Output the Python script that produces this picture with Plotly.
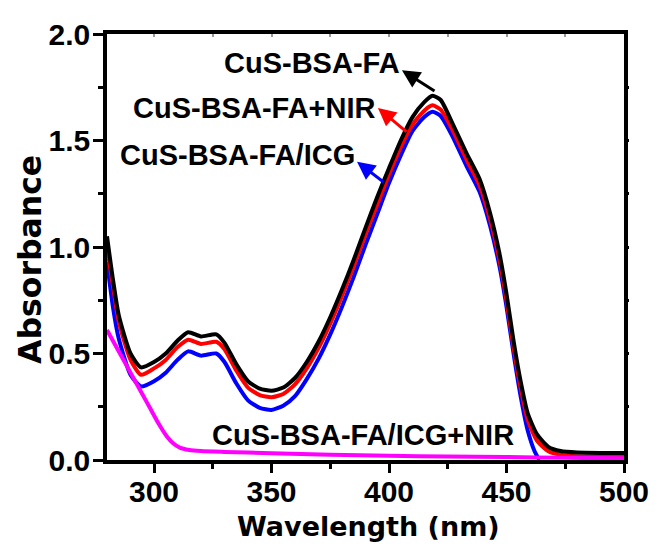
import plotly.graph_objects as go

# Black: CuS-BSA-FA
wl_black = [280, 282.5, 285, 290, 294.5, 300, 305, 310, 314.5, 320, 326.5, 330, 335, 340, 345, 350, 355, 360,
            365, 370, 375, 380, 385, 390, 395, 400, 405, 410, 415, 418.5, 422, 427, 433, 438.5, 443, 447,
            450, 453, 456, 459, 463, 468, 473, 480, 490, 500]
abs_black = [1.05, 0.85, 0.68, 0.50, 0.435, 0.46, 0.50, 0.56, 0.60, 0.58, 0.59, 0.55, 0.45, 0.37, 0.335, 0.325,
             0.34, 0.385, 0.46, 0.555, 0.67, 0.80, 0.94, 1.09, 1.235, 1.37, 1.50, 1.61, 1.68, 1.71, 1.69,
             1.58, 1.44, 1.32, 1.16, 0.97, 0.78, 0.56, 0.37, 0.22, 0.12, 0.06, 0.042, 0.035, 0.033, 0.033]

# Red: CuS-BSA-FA+NIR
wl_red = wl_black
abs_red = [1.00, 0.82, 0.65, 0.47, 0.40, 0.43, 0.47, 0.53, 0.565, 0.545, 0.555, 0.52, 0.42, 0.34, 0.305, 0.295,
           0.31, 0.355, 0.43, 0.525, 0.64, 0.77, 0.91, 1.06, 1.20, 1.34, 1.47, 1.575, 1.64, 1.665, 1.645,
           1.55, 1.41, 1.29, 1.13, 0.94, 0.75, 0.53, 0.34, 0.19, 0.09, 0.04, 0.025, 0.018, 0.016, 0.015]

# Blue: CuS-BSA-FA/ICG
wl_blue = [280, 282.5, 285, 290, 294.5, 300, 305, 310, 314.5, 320, 326.5, 330, 335, 340, 345, 350, 355, 360,
           365, 370, 375, 380, 385, 390, 395, 400, 405, 410, 415, 418.5, 422, 427, 433, 438.5, 443, 447,
           450, 453, 456, 459, 462, 464]
abs_blue = [0.93, 0.72, 0.57, 0.40, 0.345, 0.37, 0.41, 0.47, 0.51, 0.49, 0.50, 0.46, 0.36, 0.28, 0.245, 0.235,
            0.255, 0.30, 0.38, 0.475, 0.59, 0.72, 0.86, 1.01, 1.155, 1.30, 1.43, 1.545, 1.61, 1.635, 1.615,
            1.52, 1.38, 1.26, 1.10, 0.91, 0.72, 0.50, 0.30, 0.14, 0.04, 0.0]

# Magenta: CuS-BSA-FA/ICG+NIR
wl_mag = [280, 285.5, 291, 295, 298, 302, 305.5, 308, 311, 315, 320, 330, 350, 375, 400, 425, 450, 475, 500]
abs_mag = [0.61, 0.50, 0.39, 0.31, 0.25, 0.17, 0.11, 0.08, 0.058, 0.047, 0.042, 0.038, 0.032, 0.025, 0.02,
           0.016, 0.014, 0.01, 0.008]

labels = ["CuS-BSA-FA", "CuS-BSA-FA+NIR", "CuS-BSA-FA/ICG", "CuS-BSA-FA/ICG+NIR"]
label_pos = [(367.2, 1.864), (342.6, 1.653), (335.7, 1.432), (388.9, 0.117)]
arrow_heads = [(405.5, 1.83), (395.3, 1.653), (386.4, 1.40)]
arrow_tails = [(420.0, 1.728), (408.1, 1.535), (398.3, 1.30)]
colors = ["#000000", "#FF0000", "#0000FF", "#FF00FF"]

x_ticks = [300, 350, 400, 450, 500]
y_ticks = [0, 0.5, 1.0, 1.5, 2.0]
y_ticktext = ["0.0", "0.5", "1.0", "1.5", "2.0"]
x_mirror_ticks = [300, 325, 350, 375, 400, 425, 450, 475]
y_mirror_ticks = [0.25, 0.5, 0.75, 1.0, 1.25, 1.5, 1.75]

fig = go.Figure()
series = [(wl_blue, abs_blue, colors[2]), (wl_red, abs_red, colors[1]),
          (wl_black, abs_black, colors[0]), (wl_mag, abs_mag, colors[3])]
for xs, ys, c in series:
    fig.add_trace(go.Scatter(x=xs, y=ys, mode="lines",
                             line=dict(color=c, width=4, shape="spline", smoothing=0.6),
                             showlegend=False, hoverinfo="skip"))

ann = []
for (tx, ty), t in zip(label_pos, labels):
    ann.append(dict(x=tx, y=ty, xref="x", yref="y", text=t, showarrow=False,
                    font=dict(family="Liberation Sans, Arial", size=29, color="#000000", weight="bold"),
                    xanchor="center", yanchor="middle"))
for (hx, hy), (sx, sy), c in zip(arrow_heads, arrow_tails, colors[:3]):
    ann.append(dict(x=hx, y=hy, ax=sx, ay=sy, xref="x", yref="y", axref="x", ayref="y",
                    text="", showarrow=True, arrowhead=2, arrowsize=1.2, arrowwidth=3, arrowcolor=c))

# axis titles
ann.append(dict(x=0.505, y=-0.155, xref="paper", yref="paper", text="Wavelength (nm)", showarrow=False,
                xanchor="center", yanchor="middle",
                font=dict(family="DejaVu Sans", size=27, color="black", weight="bold")))
ann.append(dict(x=-0.149, y=0.472, xref="paper", yref="paper", text="Absorbance", showarrow=False,
                xanchor="center", yanchor="middle", textangle=-90,
                font=dict(family="DejaVu Sans", size=31.5, color="black", weight="bold")))

tick_font = dict(family="Liberation Sans, Arial", size=30, color="black", weight="bold")

fig.update_layout(
    width=659, height=546,
    margin=dict(l=107, r=35, t=34, b=86, autoexpand=False),
    paper_bgcolor="white", plot_bgcolor="white",
    annotations=ann,
    xaxis=dict(range=[280, 500], tickvals=x_ticks, automargin=False,
               ticks="outside", ticklen=9, tickwidth=3, tickcolor="black", ticklabelstandoff=-7,
               minor=dict(dtick=25, tick0=275, ticks="outside", ticklen=5, tickwidth=3, tickcolor="black"),
               showline=True, linewidth=3.5, linecolor="black", mirror=True,
               showgrid=False, zeroline=False, tickfont=tick_font),
    yaxis=dict(range=[0, 2.0], tickvals=y_ticks, ticktext=y_ticktext,
               automargin=False, ticklabelstandoff=-3,
               ticks="outside", ticklen=10, tickwidth=3, tickcolor="black",
               minor=dict(dtick=0.25, ticks="outside", ticklen=5, tickwidth=3, tickcolor="black"),
               showline=True, linewidth=3.5, linecolor="black", mirror=True,
               showgrid=False, zeroline=False, tickfont=tick_font),
    xaxis2=dict(range=[280, 500], overlaying="x", side="top", tickvals=x_mirror_ticks,
                ticks="inside", ticklen=3, tickwidth=1.5, tickcolor="#999999",
                showticklabels=False, showgrid=False, zeroline=False, showline=False, automargin=False),
    yaxis2=dict(range=[0, 2.0], overlaying="y", side="right", tickvals=y_mirror_ticks,
                ticks="outside", ticklen=4, tickwidth=3, tickcolor="black",
                showticklabels=False, showgrid=False, zeroline=False, showline=False, automargin=False),
)
# invisible helper trace so the mirror tick axes are drawn
fig.add_trace(go.Scatter(x=[280], y=[0], xaxis="x2", yaxis="y2", mode="markers",
                         marker=dict(opacity=0), showlegend=False, hoverinfo="skip"))

fig.write_html("out.html")
